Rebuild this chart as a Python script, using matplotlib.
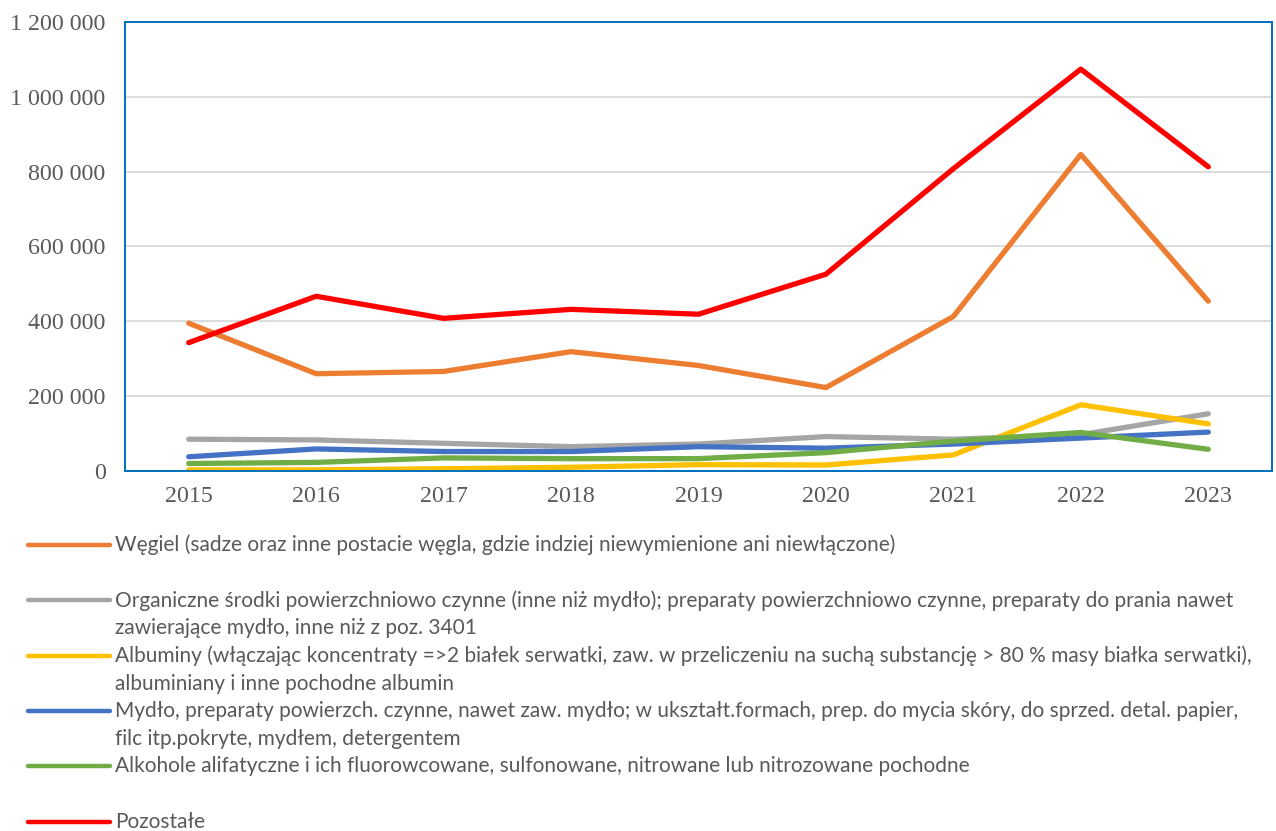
import matplotlib.pyplot as plt
from matplotlib.lines import Line2D
from matplotlib.ticker import FuncFormatter, MultipleLocator

years = ['2015', '2016', '2017', '2018', '2019', '2020', '2021', '2022', '2023']

wegiel = [395000, 260000, 266000, 319000, 282000, 223000, 413000, 846000, 454000]
organiczne = [85000, 83000, 74000, 65000, 72000, 92000, 85000, 97000, 153000]
albuminy = [3000, 3000, 6000, 10000, 17000, 16000, 43000, 177000, 126000]
mydlo = [38000, 59000, 52000, 52000, 65000, 61000, 72000, 88000, 104000]
alkohole = [20000, 23000, 35000, 33000, 33000, 49000, 80000, 103000, 58000]
pozostale = [343000, 467000, 408000, 432000, 419000, 526000, 808000, 1074000, 813000]

labels = [
    ['Węgiel (sadze oraz inne postacie węgla, gdzie indziej niewymienione ani niewłączone)'],
    ['Organiczne środki powierzchniowo czynne (inne niż mydło); preparaty powierzchniowo czynne, preparaty do prania nawet',
     'zawierające mydło, inne niż z poz. 3401'],
    ['Albuminy (włączając koncentraty =>2 białek serwatki, zaw. w przeliczeniu na suchą substancję > 80 % masy białka serwatki),',
     'albuminiany i inne pochodne albumin'],
    ['Mydło, preparaty powierzch. czynne, nawet zaw. mydło; w ukształt.formach, prep. do mycia skóry, do sprzed. detal. papier,',
     'filc itp.pokryte, mydłem, detergentem'],
    ['Alkohole alifatyczne i ich fluorowcowane, sulfonowane, nitrowane lub nitrozowane pochodne'],
    ['Pozostałe'],
]
series = [wegiel, organiczne, albuminy, mydlo, alkohole, pozostale]
colors = ['#ED7D31', '#A5A5A5', '#FFC000', '#4472C4', '#70AD47', '#FF0000']

W, H = 1276, 831
fig = plt.figure(figsize=(W / 100, H / 100), dpi=100)
ax = fig.add_axes([125 / W, 1 - 471 / H, (1272 - 125) / W, (471 - 22) / H])

x = list(range(len(years)))
for vals, c in zip(series, colors):
    ax.plot(x, vals, color=c, lw=3.8, solid_capstyle='round', solid_joinstyle='round')

ax.set_xlim(-0.5, len(years) - 0.5)
ax.set_ylim(0, 1200000)
ax.yaxis.set_major_locator(MultipleLocator(200000))
ax.yaxis.set_major_formatter(FuncFormatter(lambda v, p: '{:,.0f}'.format(v).replace(',', ' ')))
ax.set_xticks(x)
ax.set_xticklabels(years)
ax.grid(axis='y', color='#D9D9D9', lw=1.3)
ax.set_axisbelow(True)
ax.tick_params(length=0, labelsize=17.3, labelcolor='#595959')
ax.tick_params(axis='y', pad=14)
ax.tick_params(axis='x', pad=11)
for lab in ax.get_xticklabels() + ax.get_yticklabels():
    lab.set_family('Liberation Serif')
for sp in ax.spines.values():
    sp.set_color('#0070C0')
    sp.set_linewidth(1.4)

# legend, one slot of two text lines per entry
first_y = 545
slot = 55.3
line_h = 28
for i, (lines, c) in enumerate(zip(labels, colors)):
    y0 = first_y + i * slot
    fig.add_artist(Line2D([28 / W, 110 / W], [1 - y0 / H, 1 - y0 / H], color=c, lw=3.2,
                          solid_capstyle='round'))
    for j, t in enumerate(lines):
        fig.text(115 / W, 1 - (y0 + j * line_h) / H, t, fontsize=15.0, color='#595959',
                 family='Lato', va='center', ha='left')

fig.savefig('out.png', dpi=100)
